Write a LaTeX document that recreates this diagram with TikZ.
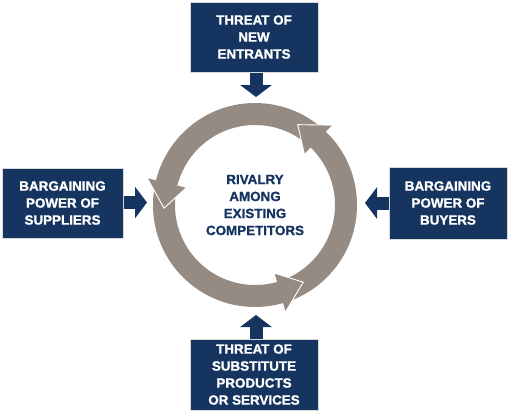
\documentclass[tikz,border=0pt]{standalone}
\usepackage{fontspec}
\setmainfont{Liberation Sans}[BoldFeatures={FakeBold=1.2}]
\usetikzlibrary{arrows.meta}
\definecolor{navy}{RGB}{21,52,96}
\definecolor{ringc}{RGB}{149,139,131}
\begin{document}
\begin{tikzpicture}[x=1pt,y=-1pt,
  box/.style={fill=navy, draw=black!15, line width=1pt, text=white, align=center,
    font=\fontsize{13.4}{17}\selectfont\bfseries, inner sep=0pt},
  blockarrow/.style={draw=navy, line width=13pt, -{Triangle[length=12pt,width=31pt]}, fill=navy},
  headshape/.style={fill=ringc},
  headedge/.style={draw=white, line width=0.9pt, line join=miter}]
\useasboundingbox (0,0) rectangle (512,413);
% ring
\coordinate (c) at (255,205);
\fill[ringc, even odd rule] (c) circle (102pt) (c) circle (80pt);
\begin{scope}[shift={(c)}]
  \foreach \a in {46,166,286}{
    \fill[headshape] (\a:71pt) -- (\a+16:91pt) -- (\a:111pt) -- cycle;
    \draw[headedge] (\a:71pt) -- (\a+16:91pt) -- (\a:111pt);
  }
\end{scope}
\node[text=navy, align=center, font=\fontsize{13.4}{17}\selectfont\bfseries] (rival) at (255,205)
  {RIVALRY\\AMONG\\EXISTING\\COMPETITORS};
% boxes
\node[box, minimum width=128pt, minimum height=70pt] (topb) at (254,37) {THREAT OF\\NEW\\ENTRANTS};
\node[box, minimum width=121pt, minimum height=70pt] (leftb) at (62.5,203) {BARGAINING\\POWER OF\\SUPPLIERS};
\node[box, minimum width=118pt, minimum height=72pt] (rightb) at (448,203) {BARGAINING\\POWER OF\\BUYERS};
\node[box, minimum width=128pt, minimum height=71pt] (botb) at (254,374.5) {THREAT OF\\SUBSTITUTE\\PRODUCTS\\OR SERVICES};
% arrows
\coordinate (topTip) at (256,97);
\coordinate (leftTip) at (147,202.5);
\coordinate (rightTip) at (365,203);
\coordinate (botTip) at (256,315);
\draw[blockarrow] (topTip |- topb.south) -- (topTip);
\draw[blockarrow] (leftTip -| leftb.east) -- (leftTip);
\draw[blockarrow] (rightTip -| rightb.west) -- (rightTip);
\draw[blockarrow] (botTip |- botb.north) -- (botTip);
\end{tikzpicture}
\end{document}
